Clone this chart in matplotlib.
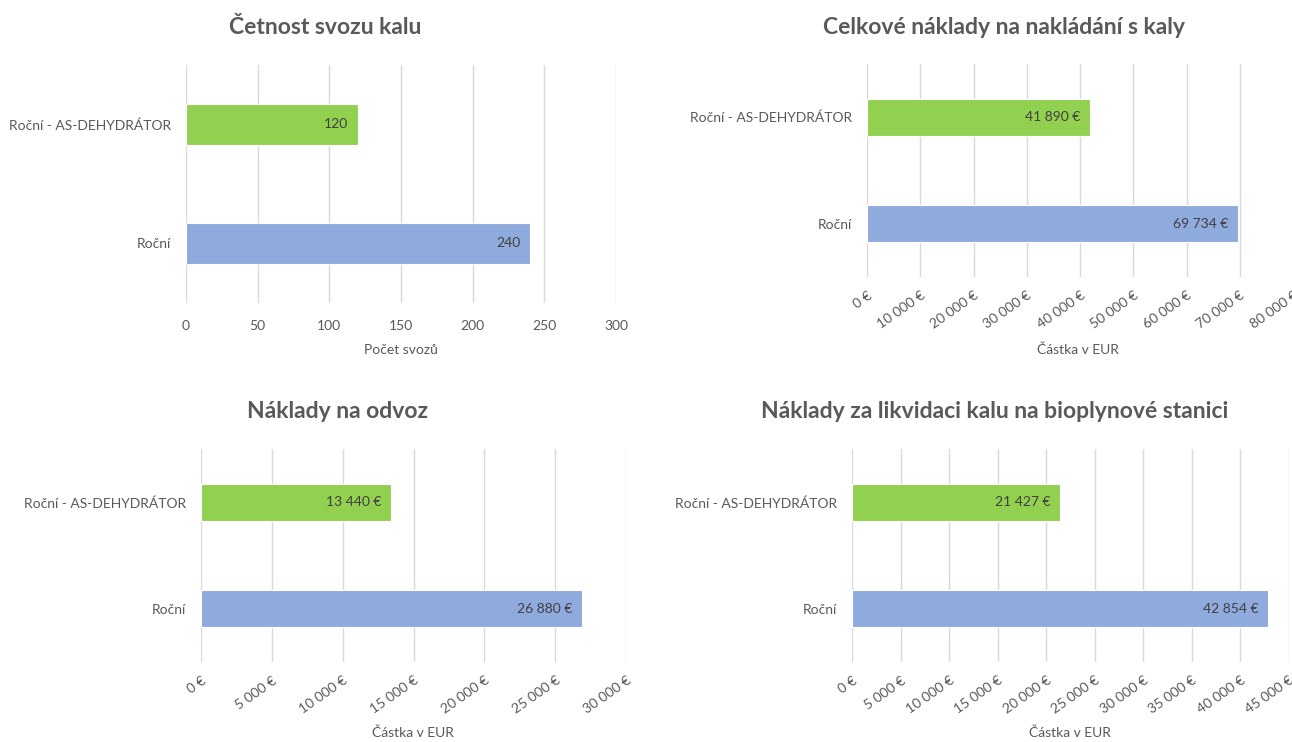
import matplotlib.pyplot as plt
from matplotlib.ticker import FuncFormatter

plt.rcParams['font.family'] = ['Lato', 'DejaVu Sans']

# data
kategorie = ['Roční', 'Roční - AS-DEHYDRÁTOR']
svozy = [240, 120]
naklady_celkem = [69734, 41890]
naklady_odvoz = [26880, 13440]
naklady_likvidace = [42854, 21427]

barvy = ['#8faadc', '#92d050']
sediva = '#595959'

W, H = 1292, 742
fig = plt.figure(figsize=(W / 100, H / 100), dpi=100)


def eur(x, _=None):
    return '{:,.0f} €'.format(x).replace(',', ' ')


def panel(box, hodnoty, xmax, krok, titul, popis, titul_xy, popis_xy, fmt, rot):
    l, t, r, b = box
    ax = fig.add_axes([l / W, 1 - b / H, (r - l) / W, (b - t) / H])
    ax.barh(range(len(kategorie)), hodnoty, height=0.35, color=barvy,
            edgecolor='white', linewidth=0.8, zorder=3)
    ax.set_xlim(0, xmax)
    ax.set_ylim(-0.5, len(kategorie) - 0.5)
    ax.set_xticks(range(0, xmax + 1, krok))
    ax.set_yticks(range(len(kategorie)))
    ax.set_yticklabels(kategorie)
    ax.xaxis.set_major_formatter(FuncFormatter(fmt))
    ax.grid(axis='x', color='#d9d9d9', linewidth=1, zorder=0)
    for s in ax.spines.values():
        s.set_visible(False)
    ax.tick_params(length=0, colors=sediva, labelsize=10)
    ax.tick_params(axis='y', pad=11)
    if rot:
        ax.tick_params(axis='x', pad=9)
        for lab in ax.get_xticklabels():
            lab.set_rotation(35)
            lab.set_ha('right')
            lab.set_va('top')
            lab.set_rotation_mode('anchor')
    else:
        ax.tick_params(axis='x', pad=12)
    for i, v in enumerate(hodnoty):
        ax.annotate(fmt(v), (v, i), xytext=(-7, 0), textcoords='offset points',
                    ha='right', va='center', fontsize=10, color='#404040', zorder=4)
    fig.text(titul_xy[0] / W, 1 - titul_xy[1] / H, titul, ha='center', va='center',
             fontsize=16.5, fontweight='bold', color=sediva)
    fig.text(popis_xy[0] / W, 1 - popis_xy[1] / H, popis, ha='center', va='center',
             fontsize=10, color=sediva)
    return ax


panel((186, 65, 616, 303), svozy, 300, 50, 'Četnost svozu kalu', 'Počet svozů',
      (325, 28), (401, 350), lambda x, _=None: '{:.0f}'.format(x), False)
panel((867, 64, 1293, 277), naklady_celkem, 80000, 10000,
      'Celkové náklady na nakládání s kaly', 'Částka v EUR',
      (1004, 28), (1078, 350), eur, True)
panel((201, 449, 626, 662), naklady_odvoz, 30000, 5000,
      'Náklady na odvoz', 'Částka v EUR',
      (338, 412), (413, 733), eur, True)
panel((852, 449, 1289, 662), naklady_likvidace, 45000, 5000,
      'Náklady za likvidaci kalu na bioplynové stanici', 'Částka v EUR',
      (995, 412), (1070, 733), eur, True)

fig.savefig('out.png', dpi=100, facecolor='white')
